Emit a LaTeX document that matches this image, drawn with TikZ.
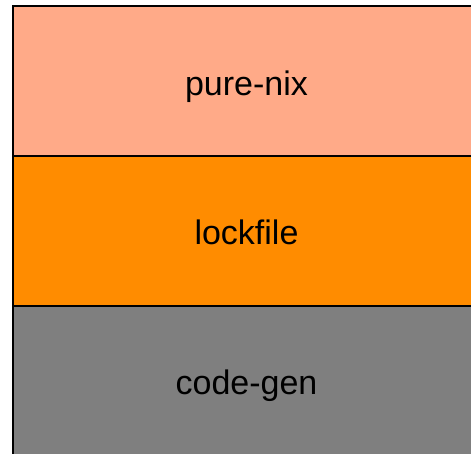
\documentclass[tikz,border=0pt]{standalone}
\usepackage{fontspec}
\setmainfont{Liberation Sans}
\usetikzlibrary{positioning}
\definecolor{peach}{HTML}{FFAA88}
\definecolor{lockorange}{HTML}{FF8C00}
\definecolor{gengray}{HTML}{7F7F7F}

\begin{document}
\begin{tikzpicture}[layer/.style={draw=black, line width=2pt, outer sep=0pt, minimum width=468pt, minimum height=149.5pt, text height=28pt, text depth=0pt, font=\fontsize{34pt}{40pt}\selectfont}]
\useasboundingbox (0,0) rectangle (471pt,453pt);
\clip (0,0) rectangle (471pt,453pt);
\node[layer, fill=peach, anchor=north west] (purenix) at (12.5pt,446.5pt) {pure-nix};
\node[layer, fill=lockorange, below=0pt of purenix] (lockfile) {lockfile};
\node[layer, fill=gengray, below=0pt of lockfile] (codegen) {code-gen};
\end{tikzpicture}
\end{document}
